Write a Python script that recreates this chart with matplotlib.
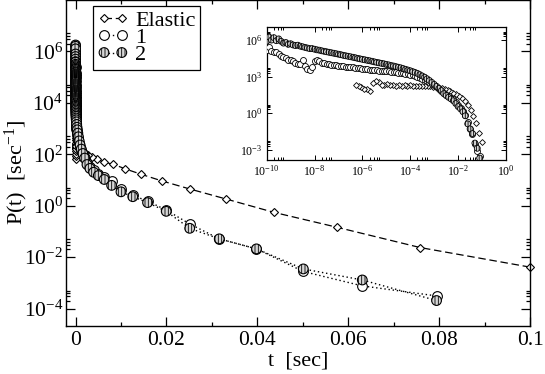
import matplotlib.pyplot as plt
from matplotlib.lines import Line2D
from matplotlib.legend_handler import HandlerTuple
from matplotlib.ticker import FixedLocator, FuncFormatter, NullFormatter
import numpy as np

plt.rcParams['font.family'] = ['Liberation Serif', 'DejaVu Serif']
plt.rcParams['mathtext.fontset'] = 'custom'
plt.rcParams['mathtext.rm'] = 'Liberation Serif'
plt.rcParams['mathtext.it'] = 'Liberation Serif:italic'
plt.rcParams['hatch.linewidth'] = 0.6

# dados (log10 t , log10 P)

lt_el = [-1.00, -1.12, -1.24, -1.36, -1.48, -1.60, -1.72, -1.84, -1.96, -2.08,
         -2.20, -2.32, -2.44, -2.56, -2.68, -2.80, -2.92, -3.04, -3.16, -3.28,
         -3.40, -3.52, -3.64, -3.76, -3.88, -4.00, -4.12, -4.24, -4.36, -4.48,
         -4.60, -4.72, -4.84, -4.96, -5.08, -5.20, -5.32, -5.44, -5.56, -5.68,
         -5.80, -5.92, -6.04, -6.16, -6.28]
lp_el = [-2.39, -1.63, -0.84, -0.26, 0.26, 0.65, 0.96, 1.22, 1.43, 1.61,
         1.69, 1.80, 1.90, 1.98, 2.05, 2.10, 2.14, 2.18, 2.20, 2.22,
         2.23, 2.25, 2.22, 2.26, 2.24, 2.27, 2.25, 2.28, 2.24, 2.30,
         2.26, 2.32, 2.28, 2.40, 2.30, 2.35, 2.55, 2.62, 2.45, 1.82,
         1.95, 2.00, 2.12, 2.20, 2.34]

lt_c = [-10.0, -9.9, -9.8, -9.7, -9.6, -9.5, -9.4, -9.3, -9.2, -9.1,
        -9.0, -8.9, -8.8, -8.7, -8.6, -8.5, -8.4, -8.3, -8.2, -8.1,
        -8.0, -7.9, -7.8, -7.7, -7.6, -7.5, -7.4, -7.3, -7.2, -7.1,
        -7.0, -6.9, -6.8, -6.7, -6.6, -6.5, -6.4, -6.3, -6.2, -6.1,
        -6.0, -5.9, -5.8, -5.7, -5.6, -5.5, -5.4, -5.3, -5.2, -5.1,
        -5.0, -4.9, -4.8, -4.7, -4.6, -4.5, -4.4, -4.3, -4.2, -4.1,
        -4.0, -3.9, -3.8, -3.7, -3.6, -3.5, -3.4, -3.3, -3.2, -3.1,
        -3.0, -2.9, -2.8, -2.7, -2.6, -2.5, -2.4, -2.3, -2.2, -2.1,
        -2.0, -1.9, -1.8, -1.7, -1.6, -1.5, -1.4, -1.3, -1.2, -1.1]
lp_1 = [5.15, 5.40, 5.10, 5.00, 5.00, 4.85, 4.70, 4.60, 4.50, 4.40,
        4.35, 4.25, 4.15, 4.00, 4.05, 4.40, 3.85, 3.65, 3.55, 3.80,
        4.25, 4.40, 4.30, 4.15, 4.10, 4.05, 4.00, 3.98, 3.95, 3.93,
        3.90, 3.88, 3.85, 3.83, 3.80, 3.78, 3.75, 3.72, 3.70, 3.68,
        3.65, 3.63, 3.60, 3.58, 3.56, 3.54, 3.52, 3.50, 3.48, 3.46,
        3.44, 3.42, 3.40, 3.37, 3.35, 3.32, 3.30, 3.27, 3.23, 3.20,
        3.15, 3.10, 3.05, 2.98, 2.90, 2.82, 2.74, 2.65, 2.55, 2.43,
        2.30, 2.16, 2.02, 1.85, 1.65, 1.50, 1.38, 1.25, 1.13, 0.95,
        0.64, 0.40, 0.18, -0.17, -0.71, -1.29, -1.68, -2.56, -3.12, -3.51]
lp_2 = [5.90, 6.25, 6.00, 6.20, 5.95, 6.10, 5.90, 5.75, 5.80, 5.65,
        5.70, 5.60, 5.55, 5.58, 5.50, 5.45, 5.40, 5.35, 5.30, 5.30,
        5.25, 5.20, 5.17, 5.12, 5.08, 5.04, 5.00, 4.96, 4.92, 4.88,
        4.84, 4.80, 4.75, 4.71, 4.67, 4.63, 4.59, 4.55, 4.50, 4.46,
        4.42, 4.38, 4.34, 4.30, 4.26, 4.21, 4.17, 4.13, 4.09, 4.05,
        4.00, 3.96, 3.91, 3.87, 3.82, 3.77, 3.72, 3.66, 3.60, 3.54,
        3.48, 3.41, 3.34, 3.26, 3.16, 3.05, 2.95, 2.82, 2.68, 2.52,
        2.36, 2.20, 2.03, 1.85, 1.60, 1.45, 1.30, 1.17, 1.02, 0.79,
        0.54, 0.35, 0.12, -0.22, -0.88, -1.29, -1.68, -2.46, -2.89, -3.69]

t_el, p_el = 10.0 ** np.array(lt_el), 10.0 ** np.array(lp_el)
t_c = 10.0 ** np.array(lt_c)
p_1, p_2 = 10.0 ** np.array(lp_1), 10.0 ** np.array(lp_2)

labels = ['Elastic', '1', '2']

fig = plt.figure(figsize=(5.45, 3.74), dpi=100)

# grafico principal

ax = fig.add_axes([66 / 545, 48 / 374, 464 / 545, 326 / 374])
ax.set_yscale('log')
ax.set_xlim(-0.0021, 0.1)
ax.set_ylim(10 ** -4.68, 1e8)

ax.plot(t_el, p_el, color='k', lw=0.9, dashes=(6, 3), marker='D', ms=4.3,
        mfc='white', mec='k', mew=0.8, clip_on=False, zorder=2)
ax.plot(t_c, p_1, color='k', lw=1.0, dashes=(1, 2), marker='o', ms=7,
        mfc='white', mec='k', mew=0.8, clip_on=False, zorder=3)
ax.plot(t_c, p_2, color='k', lw=1.0, dashes=(1, 2), zorder=3, clip_on=False)
ax.scatter(t_c, p_2, s=49, marker='o', facecolors='#d6d6d6', edgecolors='k',
           linewidths=0.8, hatch='|||||', zorder=4, clip_on=False)

ax.xaxis.set_major_locator(FixedLocator([0, 0.02, 0.04, 0.06, 0.08, 0.1]))
ax.xaxis.set_minor_locator(FixedLocator([0.01, 0.03, 0.05, 0.07, 0.09]))
ax.xaxis.set_major_formatter(FuncFormatter(lambda v, p: '%g' % v))
ax.yaxis.set_major_locator(FixedLocator([10.0 ** n for n in range(-4, 7, 2)]))
ax.yaxis.set_minor_locator(FixedLocator([m * 10.0 ** n for n in range(-4, 7, 2)
                                         for m in (2, 3, 4, 5)]))
ax.yaxis.set_major_formatter(FuncFormatter(lambda v, p: r'$10^{%d}$' % round(np.log10(v))))
ax.yaxis.set_minor_formatter(NullFormatter())
ax.tick_params(which='both', direction='in', top=True, right=True, width=0.9,
               labelsize=15.5)
ax.tick_params(axis='y', pad=2)
ax.tick_params(which='major', length=6.5)
ax.tick_params(which='minor', length=3)
for s in ax.spines.values():
    s.set_linewidth(1.0)

ax.set_xlabel('t  [sec]', fontsize=16, labelpad=1)
ax.set_ylabel(r'P(t)  [sec$^{-1}$]', fontsize=16)
ax.yaxis.set_label_coords(-0.078, 0.47)

h_el = Line2D([], [], color='k', lw=0.9, dashes=(6, 3), marker='D', ms=4.3,
              mfc='white', mec='k', mew=0.8)
h_1 = Line2D([], [], color='k', lw=1.0, dashes=(1, 2), marker='o', ms=7,
             mfc='white', mec='k', mew=0.8)
h_2l = Line2D([], [], color='k', lw=1.0, dashes=(1, 2))
h_2m = ax.scatter([], [], s=49, marker='o', facecolors='#d6d6d6', edgecolors='k',
                  linewidths=0.8, hatch='|||||')
leg = ax.legend([h_el, h_1, (h_2l, h_2m)], labels,
                handler_map={tuple: HandlerTuple(ndivide=1)},
                loc='upper left', bbox_to_anchor=(0.058, 0.982), borderaxespad=0,
                fontsize=16, numpoints=2, scatterpoints=2, scatteryoffsets=[0.5],
                handlelength=1.4, handletextpad=0.3, labelspacing=-0.15,
                borderpad=0.2, fancybox=False, framealpha=1, edgecolor='k')
leg.get_frame().set_linewidth(0.9)

# inset log-log

ai = fig.add_axes([266.7 / 545, 214 / 374, 239.3 / 545, 132.7 / 374])
ai.set_xscale('log')
ai.set_yscale('log')
ai.set_xlim(1e-10, 1)
ai.set_ylim(10 ** -3.85, 10 ** 7.05)

ai.plot(t_el, p_el, ls='none', marker='D', ms=3.0, mfc='white', mec='k', mew=0.6, zorder=2)
ai.plot(t_c, p_1, ls='none', marker='o', ms=4.3, mfc='white', mec='k', mew=0.6, zorder=3)
ai.scatter(t_c, p_2, s=18, marker='o', facecolors='#d6d6d6', edgecolors='k',
           linewidths=0.6, hatch='||||||', zorder=4)

ai.xaxis.set_major_locator(FixedLocator([10.0 ** n for n in range(-10, 1, 2)]))
ai.xaxis.set_minor_locator(FixedLocator([m * 10.0 ** n for n in range(-10, 0, 2)
                                         for m in (2, 3, 4, 5)]))
ai.yaxis.set_major_locator(FixedLocator([10.0 ** n for n in range(-3, 7, 3)]))
ai.yaxis.set_minor_locator(FixedLocator([m * 10.0 ** n for n in range(-3, 7, 3)
                                         for m in (2, 3, 4, 5)]))
fmt = FuncFormatter(lambda v, p: r'$10^{%d}$' % round(np.log10(v)))
ai.xaxis.set_major_formatter(fmt)
ai.yaxis.set_major_formatter(fmt)
ai.xaxis.set_minor_formatter(NullFormatter())
ai.yaxis.set_minor_formatter(NullFormatter())
ai.tick_params(which='both', direction='in', top=True, right=True, width=0.7,
               labelsize=8.5, pad=3)
ai.tick_params(which='major', length=3.5)
ai.tick_params(which='minor', length=2)
for s in ai.spines.values():
    s.set_linewidth(0.9)

fig.savefig('out.png', dpi=100)
